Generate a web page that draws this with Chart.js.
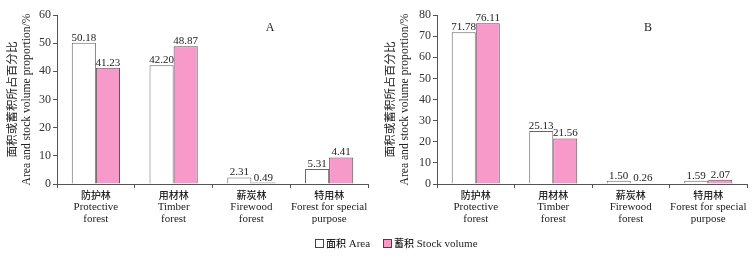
<!DOCTYPE html>
<html>
<head>
<meta charset="utf-8">
<script src="https://cdn.jsdelivr.net/npm/chart.js@4"></script>
<style>
body { margin: 0; background: #fff; width: 755px; height: 257px; overflow: hidden; position: relative; }
canvas { position: absolute; top: 0; }
.key { position: absolute; top: 235px; font: 11px "Liberation Serif", "Noto Sans CJK SC"; color: #222; white-space: nowrap; line-height: 14px; }
.key i { display: inline-block; width: 7px; height: 7px; border: 1px solid #444; margin-right: 2px; vertical-align: -1px; }
.key b { font: 10px "Noto Sans CJK SC"; font-weight: 500; }
</style>
</head>
<body>
<canvas id="chartA" width="378" height="257" style="left:0"></canvas>
<canvas id="chartB" width="377" height="257" style="left:378px"></canvas>
<span class="key" style="left:315px"><i style="background:#fff"></i><b>面积</b> Area</span>
<span class="key" style="left:383px"><i style="background:#f79ac9"></i><b>蓄积</b> Stock volume</span>
<script>
const categoriesZh = ['防护林', '用材林', '薪炭林', '特用林'];
const categoriesEn = [['Protective', 'forest'], ['Timber', 'forest'], ['Firewood', 'forest'], ['Forest for special', 'purpose']];

// panel A
const areaA = [50.18, 42.20, 2.31, 5.31];
const stockA = [41.23, 48.87, 0.49, 9.41];
const areaLabelsA = ['50.18', '42.20', '2.31', '5.31'];
const stockLabelsA = ['41.23', '48.87', '0.49', '4.41']; // printed as 4.41 in the figure

// panel B
const areaB = [71.78, 25.13, 1.50, 1.59];
const stockB = [76.11, 21.56, 0.26, 2.07];
const areaLabelsB = ['71.78', '25.13', '1.50', '1.59'];
const stockLabelsB = ['76.11', '21.56', '0.26', '2.07'];

const yTitle = ['面积或蓄积所占百分比', 'Area and stock volume proportion/%'];
const serif = '"Liberation Serif", "Noto Sans CJK SC"';

const extras = {
    id: 'extras',
    afterDatasetsDraw(chart, args, opts) {
        const ctx = chart.ctx;
        ctx.save();
        ctx.fillStyle = '#222';
        ctx.textAlign = 'center';
        ctx.textBaseline = 'alphabetic';
        ctx.font = '11px ' + serif;
        chart.data.datasets.forEach((ds, i) => {
            chart.getDatasetMeta(i).data.forEach((bar, j) => {
                ctx.fillText(opts.valueLabels[i][j], bar.x, bar.y - 2);
            });
        });

        // category labels, chinese line + english lines
        const x = chart.scales.x;
        const base = chart.chartArea.bottom;
        ctx.textBaseline = 'middle';
        categoriesZh.forEach((zh, j) => {
            const px = x.getPixelForValue(j);
            ctx.font = '500 10px "Noto Sans CJK SC"';
            ctx.fillText(zh, px, base + 11);
            ctx.font = '11px "Liberation Serif"';
            categoriesEn[j].forEach((line, k) => ctx.fillText(line, px, base + 23 + k * 12));
        });

        ctx.font = '12px "Liberation Serif"';
        ctx.fillText(opts.panel, opts.panelX, 28);
        ctx.restore();
    }
};

function makeChart(id, area, stock, labels, max, panel, axisLeft, padRight) {
    return new Chart(document.getElementById(id), {
        type: 'bar',
        data: {
            labels: categoriesZh,
            datasets: [{
                label: '面积 Area',
                data: area,
                backgroundColor: '#ffffff',
                borderColor: '#666666',
                borderWidth: 1,
                barPercentage: 1,
                categoryPercentage: 0.62
            }, {
                label: '蓄积 Stock volume',
                data: stock,
                backgroundColor: '#f79ac9',
                borderColor: '#555555',
                borderWidth: 1,
                barPercentage: 1,
                categoryPercentage: 0.62
            }]
        },
        options: {
            responsive: false,
            animation: false,
            layout: { padding: { top: 15, right: padRight, left: 0, bottom: 0 } },
            scales: {
                x: {
                    ticks: { display: false },
                    grid: { offset: true, drawOnChartArea: false, tickLength: 4, color: '#555' },
                    border: { color: '#555' },
                    afterFit: (s) => { s.height = 73; }
                },
                y: {
                    min: 0,
                    max: max,
                    ticks: { stepSize: 10, padding: 2, color: '#333', font: { family: serif, size: 12 } },
                    grid: { drawOnChartArea: false, tickLength: 4, color: '#555' },
                    border: { color: '#555' },
                    title: {
                        display: true,
                        text: yTitle,
                        color: '#222',
                        font: { family: serif, size: 11.6 },
                        padding: { top: 6, bottom: 0 }
                    },
                    afterFit: (s) => { s.width = axisLeft; }
                }
            },
            plugins: {
                legend: { display: false },
                tooltip: { enabled: false },
                extras: { valueLabels: labels, panel: panel, panelX: 270 }
            }
        },
        plugins: [extras]
    });
}

makeChart('chartA', areaA, stockA, [areaLabelsA, stockLabelsA], 60, 'A', 57, 10);
makeChart('chartB', areaB, stockB, [areaLabelsB, stockLabelsB], 80, 'B', 59, 8);
</script>
</body>
</html>
